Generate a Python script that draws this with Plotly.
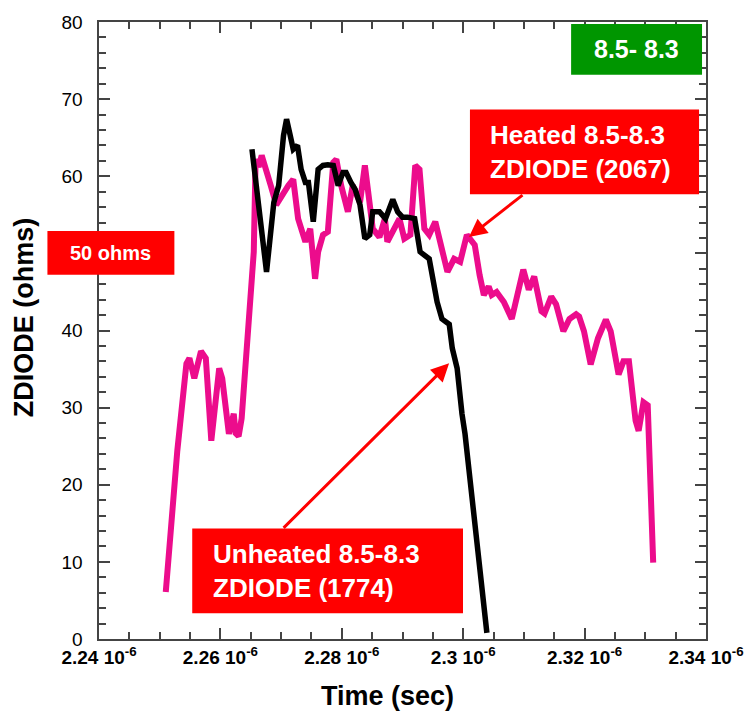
import plotly.graph_objects as go

# ---- data (time in units of 1e-6 s, ZDIODE in ohms) ----
heated_t_us = [2.2510, 2.2529, 2.2544, 2.2549, 2.2557, 2.2568, 2.2576, 2.2585, 2.2598, 2.2603,
               2.2614, 2.2622, 2.2625, 2.2630, 2.2635, 2.2647, 2.2655, 2.2658, 2.2663, 2.2668,
               2.2676, 2.2683, 2.2692, 2.2699, 2.2712, 2.2720, 2.2728, 2.2740, 2.2748, 2.2756,
               2.2761, 2.2769, 2.2777, 2.2786, 2.2791, 2.2799, 2.2810, 2.2818, 2.2830, 2.2838,
               2.2851, 2.2862, 2.2871, 2.2875, 2.2887, 2.2895, 2.2903, 2.2913, 2.2921, 2.2928,
               2.2936, 2.2944, 2.2954, 2.2962, 2.2974, 2.2985, 2.2995, 2.3006, 2.3019, 2.3027,
               2.3034, 2.3042, 2.3047, 2.3055, 2.3067, 2.3080, 2.3088, 2.3099, 2.3108, 2.3117,
               2.3129, 2.3134, 2.3145, 2.3153, 2.3165, 2.3175, 2.3186, 2.3191, 2.3199, 2.3210,
               2.3222, 2.3235, 2.3243, 2.3256, 2.3264, 2.3273, 2.3284, 2.3289, 2.3297, 2.3304,
               2.3313]
heated_z = [6.1, 24.4, 35.7, 36.4, 33.8, 37.3, 36.4, 25.7, 35.1, 33.8,
            26.6, 29.2, 26.7, 26.3, 28.6, 41.5, 50.2, 62.2, 61.2, 62.7,
            60.9, 58.8, 56.3, 57.3, 58.8, 59.6, 54.5, 51.5, 53.2, 46.7,
            50.2, 52.4, 52.8, 61.8, 62.2, 58.8, 55.4, 58.8, 56.6, 61.4,
            53.2, 52.1, 54.5, 51.5, 53.2, 54.5, 51.9, 52.4, 61.4, 60.9,
            53.2, 52.4, 54.1, 51.5, 47.6, 49.3, 48.9, 52.4, 51.1, 47.2,
            44.6, 45.7, 44.6, 45.0, 43.7, 41.5, 44.1, 47.9, 45.3, 47.0,
            42.5, 42.2, 44.4, 43.4, 39.9, 41.5, 42.1, 41.8, 39.9, 35.6,
            39.0, 41.4, 39.9, 34.3, 36.0, 36.0, 28.3, 27.0, 30.7, 30.3,
            9.9]

unheated_t_us = [2.2652, 2.2663, 2.2676, 2.2688, 2.2696, 2.2704, 2.2709, 2.2715, 2.2720, 2.2727,
                 2.2733, 2.2740, 2.2745, 2.2753, 2.2761, 2.2769, 2.2777, 2.2786, 2.2794, 2.2802,
                 2.2807, 2.2815, 2.2822, 2.2830, 2.2838, 2.2846, 2.2851, 2.2862, 2.2872, 2.2884,
                 2.2892, 2.2900, 2.2908, 2.2920, 2.2925, 2.2929, 2.2944, 2.2952, 2.2957, 2.2965,
                 2.2977, 2.2982, 2.2990, 2.2998, 2.3003, 2.3039]
unheated_z = [63.5, 56.6, 47.6, 56.6, 58.8, 65.3, 67.4, 65.3, 63.5, 64.0,
              60.9, 59.2, 59.2, 54.1, 60.9, 61.4, 61.5, 61.4, 58.8, 60.5,
              60.5, 59.2, 58.3, 56.3, 51.9, 52.4, 55.4, 55.4, 54.5, 57.0,
              55.4, 54.7, 54.7, 54.5, 51.9, 50.2, 49.3, 45.9, 43.7, 41.5,
              40.8, 37.7, 35.1, 29.2, 26.6, 0.8]

x_tick_us = [2.24, 2.26, 2.28, 2.30, 2.32, 2.34]
x_tick_labels = ["2.24 10<sup>-6</sup>", "2.26 10<sup>-6</sup>", "2.28 10<sup>-6</sup>",
                 "2.3 10<sup>-6</sup>", "2.32 10<sup>-6</sup>", "2.34 10<sup>-6</sup>"]

SCALE = 1e-6
heated_t = [v * SCALE for v in heated_t_us]
unheated_t = [v * SCALE for v in unheated_t_us]
x_ticks = [v * SCALE for v in x_tick_us]

PINK = "#EC0C8C"
RED = "#FF0000"
GREEN = "#009600"
AXC = "#444444"
FONT = "Liberation Sans, Arial, sans-serif"

fig = go.Figure()
fig.add_trace(go.Scatter(x=heated_t, y=heated_z, mode="lines",
                         line=dict(color=PINK, width=6), showlegend=False))
fig.add_trace(go.Scatter(x=unheated_t, y=unheated_z, mode="lines",
                         line=dict(color="black", width=5.5), showlegend=False))

W, H = 756, 718
L, R, T, B = 99, 45, 19, 79
PW, PH = W - L - R, H - T - B


def px(xp):
    return (xp - L) / PW


def py(yp):
    return (H - B - yp) / PH


def box(x0, y0, x1, y1, color):
    fig.add_shape(type="rect", xref="paper", yref="paper",
                  x0=px(x0), x1=px(x1), y0=py(y1), y1=py(y0),
                  fillcolor=color, line=dict(width=0), layer="above")


# boxes
box(575, 21, 707, 72, GREEN)
box(47, 229, 175, 273, RED)
box(473, 107, 704, 192, RED)
box(193, 528, 466, 613, RED)

ann = []
ann.append(dict(x=px(641), y=py(46.5), xref="paper", yref="paper", text="8.5- 8.3",
                showarrow=False, font=dict(family=FONT, size=25, color="white", weight="bold"),
                xanchor="center", yanchor="middle"))
ann.append(dict(x=px(111), y=py(251), xref="paper", yref="paper", text="50 ohms",
                showarrow=False, font=dict(family=FONT, size=20, color="white", weight="bold"),
                xanchor="center", yanchor="middle"))
ann.append(dict(x=px(491), y=py(150), xref="paper", yref="paper",
                text="Heated 8.5-8.3<br>ZDIODE (2067)", align="left",
                showarrow=False, font=dict(family=FONT, size=26, color="white", weight="bold"),
                xanchor="left", yanchor="middle"))
ann.append(dict(x=px(212), y=py(571), xref="paper", yref="paper",
                text="Unheated 8.5-8.3<br>ZDIODE (1774)", align="left",
                showarrow=False, font=dict(family=FONT, size=26, color="white", weight="bold"),
                xanchor="left", yanchor="middle"))
# arrows
ann.append(dict(x=px(472), y=py(235), xref="paper", yref="paper", text="",
                showarrow=True, ax=55, ay=-43, arrowcolor=RED, arrowwidth=3,
                arrowhead=2, arrowsize=1.2, standoff=0, startstandoff=0))
ann.append(dict(x=px(452), y=py(362), xref="paper", yref="paper", text="",
                showarrow=True, ax=-167, ay=166, arrowcolor=RED, arrowwidth=3,
                arrowhead=2, arrowsize=1.2, standoff=0, startstandoff=0))
# axis titles
ann.append(dict(x=px(23), y=py(316), xref="paper", yref="paper", text="ZDIODE (ohms)",
                textangle=-90, showarrow=False,
                font=dict(family=FONT, size=27, color="black", weight="bold"),
                xanchor="center", yanchor="middle"))
ann.append(dict(x=px(390), y=py(696), xref="paper", yref="paper", text="Time (sec)",
                showarrow=False,
                font=dict(family=FONT, size=27, color="black", weight="bold"),
                xanchor="center", yanchor="middle"))

fig.update_layout(
    width=W, height=H,
    margin=dict(l=L, r=R, t=T, b=B),
    paper_bgcolor="white", plot_bgcolor="white",
    annotations=ann,
    showlegend=False,
)
fig.update_xaxes(
    range=[2.24e-6, 2.34e-6], tickvals=x_ticks, ticktext=x_tick_labels,
    ticks="inside", ticklen=11, tickwidth=2, tickcolor=AXC,
    showline=True, linecolor=AXC, linewidth=2, mirror="ticks",
    gridcolor="white", zeroline=False,
    tickfont=dict(family=FONT, size=19, color="black", weight="bold"),
    minor=dict(ticks="inside", ticklen=7, tickwidth=2, tickcolor=AXC,
               tick0=2.24e-6, dtick=0.005e-6),
)
fig.update_yaxes(
    range=[0, 80], dtick=10,
    ticks="inside", ticklen=11, tickwidth=2, tickcolor=AXC,
    showline=True, linecolor=AXC, linewidth=2, mirror="ticks",
    gridcolor="white", zeroline=False,
    tickfont=dict(family=FONT, size=19, color="black"),
    ticksuffix="  ",
    minor=dict(ticks="inside", ticklen=7, tickwidth=2, tickcolor=AXC, dtick=2),
)

fig.write_html("out.html")
